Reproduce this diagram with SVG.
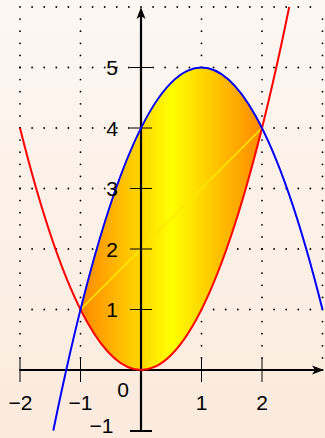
<svg xmlns="http://www.w3.org/2000/svg" width="325" height="438" viewBox="0 0 325 438">
<defs>
<linearGradient id="bg" x1="0" y1="0" x2="0" y2="1">
<stop offset="0" stop-color="#fdf7f2"/>
<stop offset="1" stop-color="#fbeadd"/>
</linearGradient>
<linearGradient id="fillg" gradientUnits="userSpaceOnUse" x1="80.5" y1="0" x2="262" y2="0">
<stop offset="0" stop-color="#ff8800"/>
<stop offset="0.5" stop-color="#ffff00"/>
<stop offset="1" stop-color="#ff8800"/>
</linearGradient>
</defs>
<style>
.grid{stroke:#000;stroke-width:1.8;stroke-linecap:round;stroke-dasharray:0 12.1;fill:none}
.axis{stroke:#000;stroke-width:2.2;fill:none}
.tick{stroke:#000;stroke-width:1;fill:none}
.lbl{font-family:"Liberation Sans",Arial,sans-serif;font-size:21px;fill:#000}
.curve{fill:none;stroke-width:2}
</style>
<rect width="325" height="438" fill="url(#bg)"/>
<g id="grid">
<path class="grid" d="M20,370V7M80.5,370V7M201.5,370V7M262,370V7M322.5,370V7"/>
<path class="grid" d="M20,309.5H322.5M20,249H322.5M20,188.5H322.5M20,128H322.5M20,67.5H322.5M20,7H322.5"/>
</g>
<g id="region">
<path d="M80.5,309.5Q171.25,-53.5 262,128Q171.25,491 80.5,309.5Z" fill="url(#fillg)"/>
<line x1="80.5" y1="309.5" x2="262" y2="128" stroke="#ffe800" stroke-width="1.6"/>
</g>
<g id="connectors">
<path id="axis-x" class="axis" d="M20,370H318"/>
<path d="M324,370L312,365.5L315,370L312,374.5Z" fill="#000"/>
<path id="axis-y" class="axis" d="M141,431V13"/>
<path d="M141,7L136.5,19L141,16L145.5,19Z" fill="#000"/>
<path class="tick" d="M20,358V382M80.5,358V382M201.5,358V382M262,358V382"/>
<path class="tick" d="M130,309.5H152M130,249H152M130,188.5H152M130,128H152M130,67.5H152"/>
<path d="M130,431H152" stroke="#000" stroke-width="2"/>
<path id="red" class="curve" stroke="#ff0000" d="M20,128Q154.6,666.4 289.2,7"/>
<path id="blue" class="curve" stroke="#0000ff" d="M53.3,430.5Q187.9,-228.9 322.5,309.5"/>
</g>
<g id="labels">
<text class="lbl" x="118" y="75" text-anchor="end">5</text>
<text class="lbl" x="118" y="135.5" text-anchor="end">4</text>
<text class="lbl" x="118" y="196" text-anchor="end">3</text>
<text class="lbl" x="118" y="256.5" text-anchor="end">2</text>
<text class="lbl" x="118" y="317" text-anchor="end">1</text>
<text class="lbl" x="123" y="397" text-anchor="middle">0</text>
<text class="lbl" x="20.5" y="410" text-anchor="middle">−2</text>
<text class="lbl" x="80.5" y="410" text-anchor="middle">−1</text>
<text class="lbl" x="201.5" y="410" text-anchor="middle">1</text>
<text class="lbl" x="262" y="410" text-anchor="middle">2</text>
<text class="lbl" x="101.5" y="433" text-anchor="middle">−1</text>
</g>
</svg>
